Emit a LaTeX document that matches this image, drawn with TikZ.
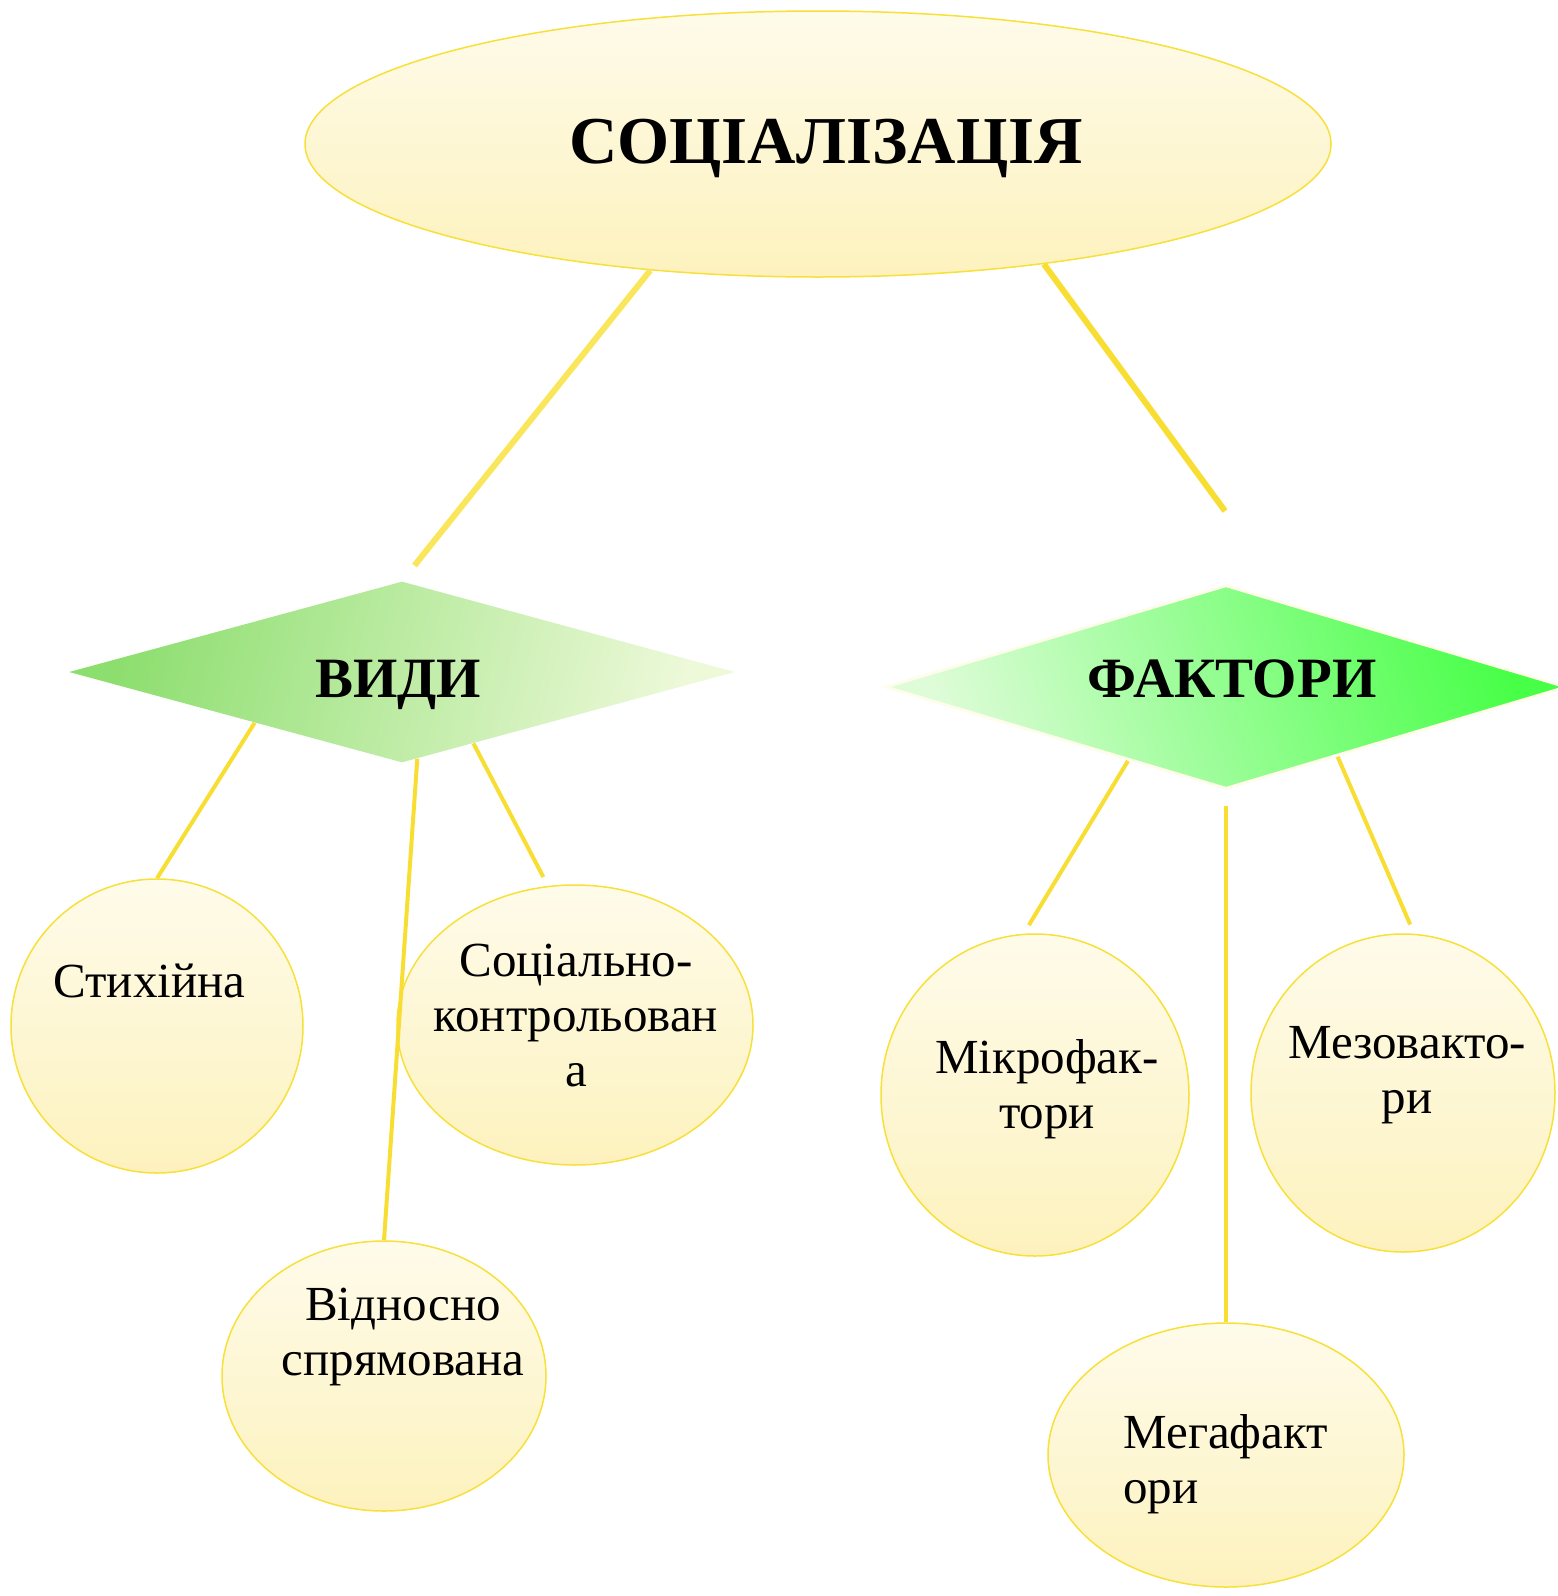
\documentclass[tikz,border=0pt]{standalone}
\usepackage{fontspec}
\setmainfont{Liberation Serif}
\usetikzlibrary{shapes.geometric}
\definecolor{linkyellow}{RGB}{248,222,50}
\definecolor{linkpale}{RGB}{250,230,90}
\definecolor{rimyellow}{RGB}{247,224,58}
\definecolor{creamtop}{RGB}{254,251,234}
\definecolor{creambot}{RGB}{253,242,190}
\definecolor{vidydark}{RGB}{140,222,110}
\definecolor{vidylight}{RGB}{238,249,218}
\definecolor{faktpale}{RGB}{222,252,216}
\definecolor{faktbright}{RGB}{70,255,70}
\definecolor{faktrim}{RGB}{254,253,236}
\begin{document}
\begin{tikzpicture}[x=0.5pt,y=-0.5pt,
    bubble/.style={ellipse,draw=rimyellow,line width=0.75pt,
      top color=creamtop,bottom color=creambot,inner sep=0pt},
    rhomb/.style={diamond,inner sep=0pt,aspect=3.6},
    heading/.style={font=\fontsize{28.5}{34}\selectfont\bfseries,inner sep=0pt},
    word/.style={font=\fontsize{24.5}{27.5}\selectfont,inner sep=0pt,align=center},
    link/.style={draw=linkyellow,line width=2pt}]
  \useasboundingbox (0,0) rectangle (1558,1596);
  \node[bubble,minimum width=513pt,minimum height=133pt] (soc) at (818,144) {};
  \node[rhomb,left color=vidydark,right color=vidylight,shading angle=75,
    minimum width=333pt,minimum height=90.5pt] (vidy) at (402,672) {};
  \node[rhomb,draw=faktrim,line width=1.5pt,left color=faktpale,right color=faktbright,
    shading angle=110,minimum width=341pt,minimum height=102pt] (fakt) at (1226,687) {};
  \coordinate (fend) at (1225,511);
  \node[bubble,minimum width=146pt,minimum height=147pt] (stikh) at (157,1026) {};
  \node[bubble,minimum width=178pt,minimum height=140pt] (soccon) at (575,1025) {};
  \node[bubble,minimum width=162pt,minimum height=135pt] (vidn) at (384,1376) {};
  \node[bubble,minimum width=154pt,minimum height=161pt] (mikro) at (1035,1095) {};
  \node[bubble,minimum width=152pt,minimum height=159pt] (mezo) at (1403,1093) {};
  \node[bubble,minimum width=178pt,minimum height=132pt] (mega) at (1226,1455) {};
  \node[heading,font=\fontsize{33.5}{40}\selectfont\bfseries,anchor=base] (soc-txt) at (826,163) {СОЦІАЛІЗАЦІЯ};
  \node[heading,anchor=base] (vidy-txt) at (398,697) {ВИДИ};
  \node[heading,anchor=base] (fakt-txt) at (1232,697) {ФАКТОРИ};
  \node[word,anchor=base west] (stikh-txt) at (53,997) {Стихійна};
  \node[word,anchor=north] (soccon-txt) at (576,944) {Соціально-\\контрольован\\а};
  \node[word,anchor=north] (vidn-txt) at (403,1288) {Відносно\\спрямована};
  \node[word,anchor=north] (mikro-txt) at (1047,1039) {Мікрофак-\\тори};
  \node[word,anchor=north] (mezo-txt) at (1407,1026) {Мезовакто-\\ри};
  \node[word,align=left,anchor=north west] (mega-txt) at (1123,1414) {Мегафакт\\ори};
  \begin{scope}[link]
    \draw[line width=3pt,draw=linkpale,shorten >=10pt] (soc.217) to (vidy.north);
    \draw[line width=3pt] (soc.332) to (fend);
    \draw (vidy.199) to (stikh.north);
    \draw (vidy.280) to (vidn.north);
    \draw[shorten >=5pt] (vidy.315) to (soccon.101);
    \draw[shorten >=5pt] (fakt.217) to (mikro.94);
    \draw[shorten <=7.5pt] (fakt.south) to (mega.north);
    \draw[shorten >=5pt] (fakt.328) to (mezo.86);
  \end{scope}
\end{tikzpicture}
\end{document}
